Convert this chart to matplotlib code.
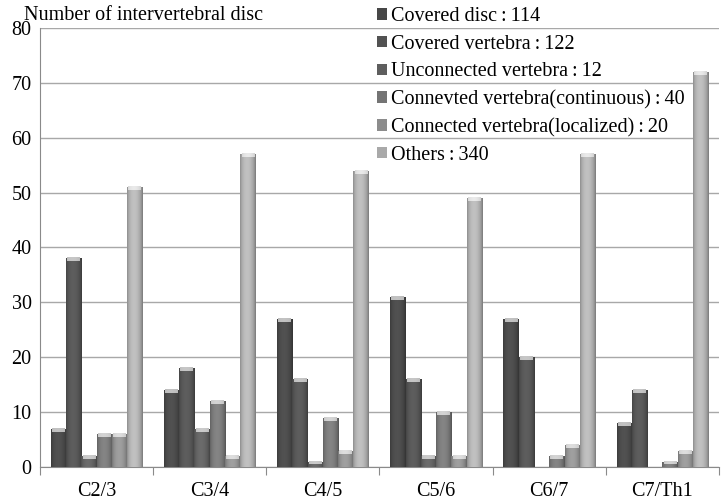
import matplotlib.pyplot as plt
import numpy as np
from matplotlib.colors import to_rgb

plt.rcParams['font.family'] = ['Liberation Serif', 'DejaVu Serif']

segments = ['C2/3', 'C3/4', 'C4/5', 'C5/6', 'C6/7', 'C7/Th1']
covered_disc = [7, 14, 27, 31, 27, 8]
covered_vertebra = [38, 18, 16, 16, 20, 14]
unconnected_vertebra = [2, 7, 1, 2, 0, 0]
connected_continuous = [6, 12, 9, 10, 2, 1]
connected_localized = [6, 2, 3, 2, 4, 3]
others = [51, 57, 54, 49, 57, 72]

series = [covered_disc, covered_vertebra, unconnected_vertebra,
          connected_continuous, connected_localized, others]
labels = ['Covered disc\u2009:\u2009114', 'Covered vertebra\u2009:\u2009122',
          'Unconnected vertebra\u2009:\u200912',
          'Connevted vertebra(continuous)\u2009:\u200940',
          'Connected vertebra(localized)\u2009:\u200920', 'Others\u2009:\u2009340']
colors = ['#474747', '#525252', '#5e5e5e', '#747474', '#8c8c8c', '#a9a9a9']
fs = 14.5


def shade(col, n=32):
    # cylinder-like horizontal shading
    t = np.linspace(0, 1, n)
    f = 0.82 + 0.38 * np.sin(np.pi * t) ** 0.6 - 0.12 * t
    rgb = np.clip(np.outer(f, to_rgb(col)), 0, 1)
    return rgb[np.newaxis, :, :]


fig = plt.figure(figsize=(7.24, 5.03), dpi=100)
ax = fig.add_axes([40 / 724, 1 - 467 / 503, 679 / 724, 439 / 503])

x = np.arange(len(segments))
width = 0.135
for i, (vals, col, lab) in enumerate(zip(series, colors, labels)):
    bars = ax.bar(x + (i - 2.5) * width, vals, width, color=col, label=lab,
                  edgecolor='none', zorder=2)
    for b in bars:
        h = b.get_height()
        if h <= 0:
            continue
        bx, bw = b.get_x(), b.get_width()
        im = ax.imshow(shade(col), extent=(bx, bx + bw, 0, h), aspect='auto',
                       origin='lower', zorder=3, interpolation='bicubic')
        im.set_clip_path(b)
        cap = min(0.55, h * 0.5)
        ax.imshow(shade(col) * 0.35 + 0.65, extent=(bx + bw * 0.08, bx + bw * 0.92, h - cap, h),
                  aspect='auto', origin='lower', zorder=4, interpolation='bicubic')

ax.set_aspect('auto')
ax.set_xlim(-0.5, len(segments) - 0.5)
ax.set_ylim(0, 80)
ax.set_yticks(np.arange(0, 81, 10))
ax.grid(axis='y', color='#a8a8a8', lw=1, zorder=0)
ax.set_axisbelow(True)

ax.set_xticks(np.arange(-0.5, len(segments), 1))
ax.set_xticklabels([])
ax.set_xticks(x, minor=True)
ax.set_xticklabels(segments, minor=True)
ax.tick_params(axis='x', which='major', length=6, color='#8a8a8a', direction='out')
ax.tick_params(axis='x', which='minor', length=0, pad=10.5, labelsize=fs)
ax.tick_params(axis='y', length=0, pad=6, labelsize=fs)

for s in ['top', 'right']:
    ax.spines[s].set_visible(False)
for s in ['left', 'bottom']:
    ax.spines[s].set_color('#8a8a8a')

fig.text(24 / 724, 1 - 15 / 503, 'Number of intervertebral disc', fontsize=fs,
         va='center', ha='left')

ax.legend(loc='upper left', bbox_to_anchor=(367 / 724, 1 + 3 / 503),
          bbox_transform=fig.transFigure, frameon=False, fontsize=fs,
          borderpad=0, labelspacing=0.43, handlelength=0.5, handleheight=0.5,
          handletextpad=0.2)

plt.savefig('out.png', dpi=100)
